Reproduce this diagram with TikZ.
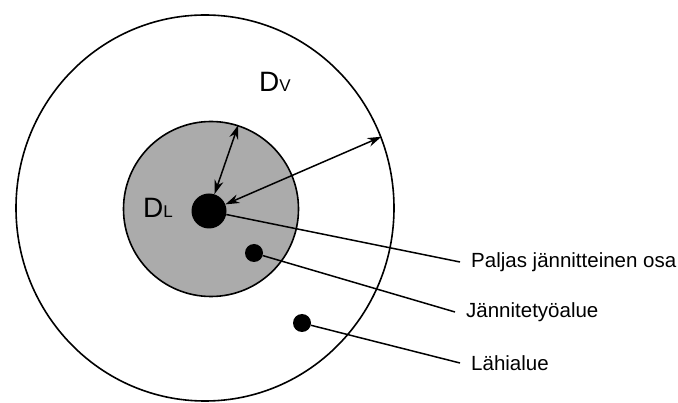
\documentclass[tikz,border=0pt]{standalone}
\usepackage{fontspec}
\setmainfont{Liberation Sans}
\usetikzlibrary{arrows.meta,shapes.geometric}
\tikzset{
  zone/.style={draw, line width=1.6pt, inner sep=0pt},
  spot/.style={circle, fill=black, inner sep=0pt},
  tag/.style={anchor=west, inner xsep=11pt, inner ysep=0pt, font=\fontsize{20.5}{24}\selectfont},
  dimarr/.style={line width=1.5pt, {Stealth[length=14pt,width=9pt]}-{Stealth[length=14pt,width=9pt]}},
  lead/.style={line width=1.5pt},
  zlabel/.style={inner sep=0pt, font=\fontsize{28}{28}\selectfont},
}

\begin{document}
\begin{tikzpicture}[x=1pt, y=-1pt]
  \useasboundingbox (0,0) rectangle (678,403);
  % zones
  \node[zone, ellipse, minimum width=378pt, minimum height=386pt] (vyo) at (205,208) {};
  \node[zone, circle, fill=black!33, minimum size=175pt] (tyo) at (211,209) {};
  \node[spot, minimum size=35pt] (osa) at (209,211) {};
  \node[spot, minimum size=18pt] (p1) at (254,253) {};
  \node[spot, minimum size=18pt] (p2) at (302,323) {};
  \node[zlabel] (dl) at (158,208) {D\fontsize{17}{17}\selectfont L};
  \node[zlabel] (dv) at (275,82) {D\fontsize{17}{17}\selectfont V};
  % distances
  \draw[dimarr] (osa.72) -- (tyo.72);
  \draw[dimarr] (osa.22) -- (vyo.22);
  % labels
  \node[tag] (paljas) at (460,262) {Paljas jännitteinen osa};
  \node[tag] (jtalue) at (455,312) {Jännitetyöalue};
  \node[tag] (lahi) at (460,363) {Lähialue};
  \draw[lead] (osa) -- (paljas.west);
  \draw[lead] (p1) -- (jtalue.west);
  \draw[lead] (p2) -- (lahi.west);
\end{tikzpicture}
\end{document}
